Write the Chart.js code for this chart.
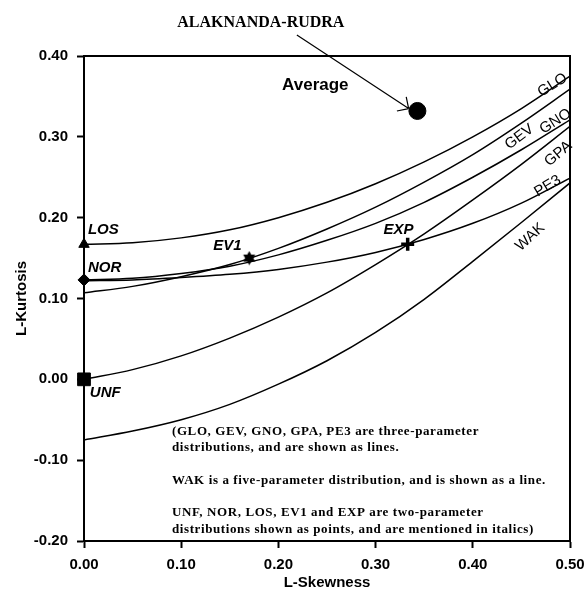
<!DOCTYPE html>
<html>
<head>
<meta charset="utf-8">
<script src="https://cdn.jsdelivr.net/npm/chart.js@4.4.1/dist/chart.umd.min.js"></script>
<style>
  html, body { margin: 0; padding: 0; background: #fff; }
  #wrap { width: 585px; height: 590px; position: relative; }
</style>
</head>
<body>
<div id="wrap"><canvas id="ratio-chart"></canvas></div>
<script>
// L-skewness sample points shared by the curves
const tau3 = [0, 0.05, 0.10, 0.15, 0.20, 0.25, 0.30, 0.35, 0.40, 0.45, 0.50];

// L-kurtosis
const glo = [0.167, 0.169, 0.175, 0.185, 0.200, 0.219, 0.242, 0.269, 0.300, 0.335, 0.375];
const gev = [0.107, 0.115, 0.127, 0.142, 0.162, 0.186, 0.213, 0.244, 0.278, 0.317, 0.359];
const gno = [0.123, 0.125, 0.131, 0.140, 0.154, 0.172, 0.193, 0.219, 0.250, 0.284, 0.321];
const gpa = [0.000, 0.012, 0.029, 0.051, 0.077, 0.107, 0.142, 0.180, 0.222, 0.266, 0.313];
const pe3 = [0.122, 0.123, 0.126, 0.130, 0.136, 0.145, 0.157, 0.173, 0.193, 0.218, 0.249];
const wak = [-0.075, -0.064, -0.050, -0.031, -0.006, 0.023, 0.058, 0.099, 0.146, 0.194, 0.243];

// two-parameter distributions (points)
const pointNames = ['LOS', 'NOR', 'UNF', 'EV1', 'EXP'];
const pointX = [0, 0, 0, 0.170, 0.333];
const pointY = [0.167, 0.123, 0, 0.150, 0.167];

// regional average
const avgX = [0.343];
const avgY = [0.332];

const xTicks = [0, 0.1, 0.2, 0.3, 0.4, 0.5];
const yTicks = [-0.2, -0.1, 0, 0.1, 0.2, 0.3, 0.4];

const notes = [
    '(GLO, GEV, GNO, GPA, PE3 are three-parameter',
    'distributions, and are shown as lines.',
    'WAK is a five-parameter distribution, and is shown as a line.',
    'UNF, NOR, LOS, EV1 and EXP are two-parameter',
    'distributions shown as points, and are mentioned in italics)'
];

const curve = ys => tau3.map((x, i) => ({ x: x, y: ys[i] }));

function lineSet(label, ys) {
    return {
        label: label,
        data: curve(ys),
        showLine: true,
        borderColor: '#000',
        borderWidth: 1.5,
        pointRadius: 0,
        cubicInterpolationMode: 'monotone',
        order: 1
    };
}

// filled six-point star for EV1
const starImg = document.createElement('canvas');
starImg.width = 15;
starImg.height = 15;
(function () {
    const c = starImg.getContext('2d');
    c.fillStyle = '#000';
    [-Math.PI / 2, Math.PI / 2].forEach(a0 => {
        c.beginPath();
        for (let k = 0; k < 3; k++) {
            const a = a0 + k * 2 * Math.PI / 3;
            const px = 7.5 + 7 * Math.cos(a), py = 7.5 + 7 * Math.sin(a);
            if (k === 0) c.moveTo(px, py); else c.lineTo(px, py);
        }
        c.closePath();
        c.fill();
    });
})();

const styles = ['triangle', 'rectRot', 'rect', starImg, 'cross'];
const radii = [6, 6, 9, 7, 6.5];

const pointSets = pointNames.map((name, i) => ({
    label: name,
    data: [{ x: pointX[i], y: pointY[i] }],
    pointStyle: styles[i],
    pointRadius: radii[i],
    backgroundColor: '#000',
    borderColor: '#000',
    borderWidth: name === 'EXP' ? 3.5 : 1,
    showLine: false,
    clip: false,
    order: 0
}));

const avgSet = {
    label: 'Average',
    data: avgX.map((x, i) => ({ x: x, y: avgY[i] })),
    pointStyle: 'circle',
    pointRadius: 8.5,
    backgroundColor: '#000',
    borderColor: '#000',
    showLine: false,
    clip: false,
    order: 0
};

const SANS = "Arial, 'Liberation Sans', sans-serif";
const SERIF = "'Times New Roman', 'Liberation Serif', serif";

const textPlugin = {
    id: 'ratioText',
    afterDatasetsDraw(chart) {
        const { ctx, chartArea: a, scales: { x, y } } = chart;
        ctx.save();
        ctx.fillStyle = '#000';
        ctx.strokeStyle = '#000';

        // box top and right
        ctx.lineWidth = 2;
        ctx.beginPath();
        ctx.moveTo(a.left, a.top);
        ctx.lineTo(a.right, a.top);
        ctx.lineTo(a.right, a.bottom);
        ctx.stroke();

        // point labels
        ctx.font = 'italic bold 15px ' + SANS;
        ctx.textBaseline = 'middle';
        ctx.textAlign = 'left';
        const lab = [[0.004, 0.185, 'LOS'], [0.004, 0.138, 'NOR'], [0.006, -0.017, 'UNF'],
                     [0.133, 0.165, 'EV1'], [0.308, 0.185, 'EXP']];
        lab.forEach(l => ctx.fillText(l[2], x.getPixelForValue(l[0]), y.getPixelForValue(l[1])));

        // curve labels, rotated along the lines
        ctx.font = '15px ' + SANS;
        ctx.textAlign = 'center';
        const cl = [[0.482, 0.364, 'GLO', 32], [0.448, 0.300, 'GEV', 37], [0.485, 0.319, 'GNO', 32],
                    [0.488, 0.279, 'GPA', 40], [0.477, 0.239, 'PE3', 31], [0.459, 0.176, 'WAK', 42]];
        cl.forEach(l => {
            ctx.save();
            ctx.translate(x.getPixelForValue(l[0]), y.getPixelForValue(l[1]));
            ctx.rotate(-l[3] * Math.PI / 180);
            ctx.fillText(l[2], 0, 0);
            ctx.restore();
        });

        ctx.font = 'bold 17px ' + SANS;
        ctx.fillText('Average', x.getPixelForValue(0.238), y.getPixelForValue(0.364));

        ctx.font = 'bold 16px ' + SERIF;
        ctx.textAlign = 'left';
        ctx.fillText('ALAKNANDA-RUDRA', x.getPixelForValue(0.096), y.getPixelForValue(0.441));

        // arrow to the average point
        const x0 = x.getPixelForValue(0.219), y0 = y.getPixelForValue(0.426);
        const x1 = x.getPixelForValue(0.334), y1 = y.getPixelForValue(0.335);
        ctx.lineWidth = 1.2;
        ctx.beginPath();
        ctx.moveTo(x0, y0);
        ctx.lineTo(x1, y1);
        const ang = Math.atan2(y0 - y1, x0 - x1);
        [-Math.PI / 4, Math.PI / 4].forEach(d => {
            ctx.moveTo(x1, y1);
            ctx.lineTo(x1 + 12 * Math.cos(ang + d), y1 + 12 * Math.sin(ang + d));
        });
        ctx.stroke();

        // notes
        ctx.font = 'bold 13px ' + SERIF;
        ctx.letterSpacing = '0.6px';
        const nx = x.getPixelForValue(0.0905);
        const ny = [-0.065, -0.084, -0.125, -0.1655, -0.1865];
        notes.forEach((t, i) => ctx.fillText(t, nx, y.getPixelForValue(ny[i])));
        ctx.restore();
    }
};

new Chart(document.getElementById('ratio-chart'), {
    type: 'scatter',
    data: {
        datasets: [
            ...pointSets,
            avgSet,
            lineSet('GLO', glo),
            lineSet('GEV', gev),
            lineSet('GNO', gno),
            lineSet('GPA', gpa),
            lineSet('PE3', pe3),
            lineSet('WAK', wak)
        ]
    },
    options: {
        responsive: true,
        maintainAspectRatio: false,
        animation: false,
        layout: { padding: { left: 0, right: 15, top: 56, bottom: 0 } },
        plugins: { legend: { display: false }, tooltip: { enabled: false } },
        scales: {
            x: {
                type: 'linear',
                min: 0,
                max: 0.5,
                afterFit: s => { s.height = 49; s.paddingRight = 0; s.paddingLeft = 0; },
                afterBuildTicks: s => { s.ticks = xTicks.map(v => ({ value: v })); },
                ticks: {
                    color: '#000',
                    padding: 8,
                    font: { family: SANS, size: 15, weight: 'bold' },
                    callback: v => v.toFixed(2)
                },
                grid: { drawOnChartArea: false, drawTicks: true, tickLength: 7, color: '#000', tickWidth: 2 },
                border: { display: true, color: '#000', width: 2 },
                title: {
                    display: true,
                    text: 'L-Skewness',
                    color: '#000',
                    font: { family: SANS, size: 15, weight: 'bold', lineHeight: 1 },
                    padding: { top: 0, bottom: 0 }
                }
            },
            y: {
                type: 'linear',
                min: -0.2,
                max: 0.4,
                afterFit: s => { s.width = 84; },
                afterBuildTicks: s => { s.ticks = yTicks.map(v => ({ value: v })); },
                ticks: {
                    color: '#000',
                    padding: 9,
                    font: { family: SANS, size: 15, weight: 'bold' },
                    callback: v => v.toFixed(2)
                },
                grid: { drawOnChartArea: false, drawTicks: true, tickLength: 7, color: '#000', tickWidth: 2 },
                border: { display: true, color: '#000', width: 2 },
                title: {
                    display: true,
                    text: 'L-Kurtosis',
                    color: '#000',
                    font: { family: SANS, size: 15, weight: 'bold', lineHeight: 1 },
                    padding: { top: 14, bottom: 0 }
                }
            }
        }
    },
    plugins: [textPlugin]
});
</script>
</body>
</html>
